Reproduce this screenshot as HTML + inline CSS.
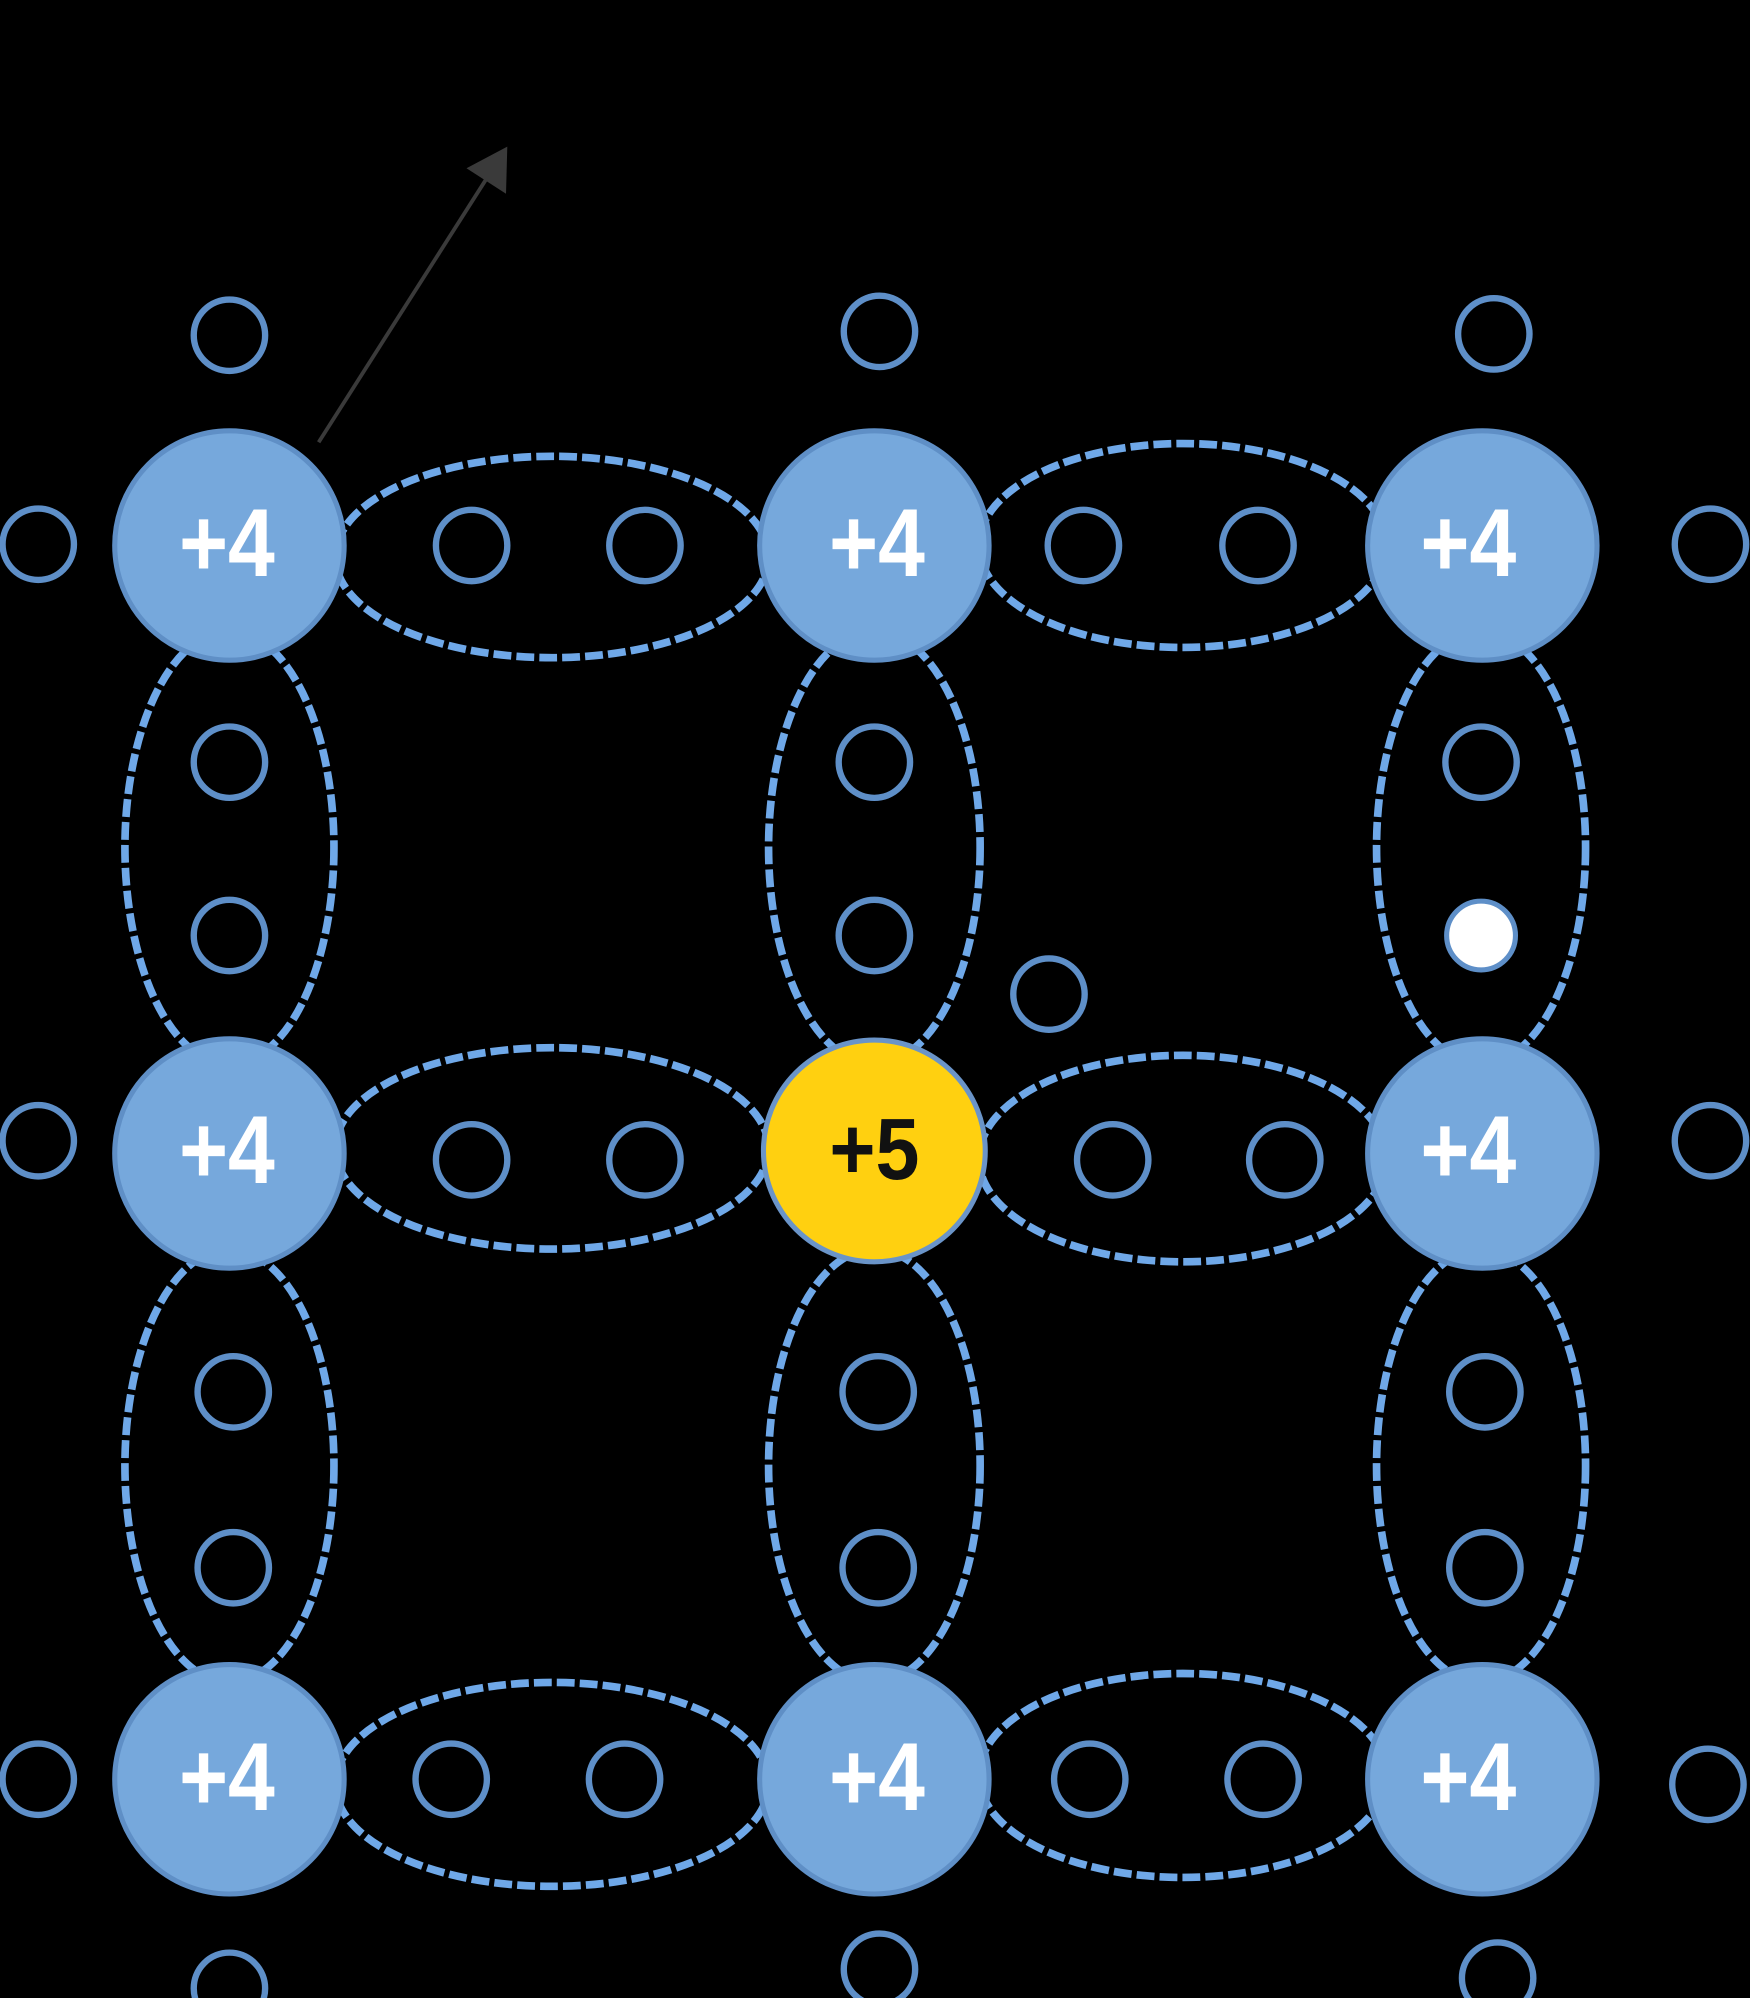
<!DOCTYPE html>
<html><head><meta charset="utf-8"><style>html,body{margin:0;padding:0;background:#000}svg{display:block}</style></head>
<body>
<svg width="1750" height="1998" viewBox="0 0 1373 1567.6" xmlns="http://www.w3.org/2000/svg">
<rect width="1373" height="1568" fill="#000"/>
<line x1="250" y1="347" x2="385" y2="135" stroke="#3a3a3a" stroke-width="3"/>
<polygon points="398,115 397,152 366,132" fill="#3a3a3a"/>
<g fill="none" stroke="#6fa8e8" stroke-width="6" stroke-dasharray="14 4">
<ellipse cx="433" cy="437" rx="170" ry="79"/>
<ellipse cx="928" cy="428" rx="160" ry="80"/>
<ellipse cx="433" cy="901" rx="170" ry="79"/>
<ellipse cx="928" cy="909" rx="160" ry="81"/>
<ellipse cx="433" cy="1400" rx="170" ry="80"/>
<ellipse cx="928" cy="1393" rx="160" ry="80"/>
<ellipse cx="180" cy="665" rx="82" ry="170"/>
<ellipse cx="686" cy="665" rx="83" ry="170"/>
<ellipse cx="1162" cy="665" rx="82" ry="170"/>
<ellipse cx="180" cy="1150" rx="82" ry="170"/>
<ellipse cx="686" cy="1150" rx="83" ry="170"/>
<ellipse cx="1162" cy="1150" rx="82" ry="170"/>
</g>
<g fill="none" stroke="#5e8fc8" stroke-width="5">
<circle cx="180" cy="263" r="28"/><circle cx="690" cy="260" r="28"/><circle cx="1172" cy="262" r="28"/>
<circle cx="30" cy="427" r="28"/><circle cx="370" cy="428" r="28"/><circle cx="506" cy="428" r="28"/><circle cx="850" cy="428" r="28"/><circle cx="987" cy="428" r="28"/><circle cx="1342" cy="427" r="28"/>
<circle cx="180" cy="598" r="28"/><circle cx="180" cy="734" r="28"/><circle cx="686" cy="598" r="28"/><circle cx="686" cy="734" r="28"/><circle cx="1162" cy="598" r="28"/>
<circle cx="823" cy="780" r="28"/>
<circle cx="30" cy="895" r="28"/><circle cx="370" cy="910" r="28"/><circle cx="506" cy="910" r="28"/><circle cx="873" cy="910" r="28"/><circle cx="1008" cy="910" r="28"/><circle cx="1342" cy="895" r="28"/>
<circle cx="183" cy="1092" r="28"/><circle cx="183" cy="1230" r="28"/><circle cx="689" cy="1092" r="28"/><circle cx="689" cy="1230" r="28"/><circle cx="1165" cy="1092" r="28"/><circle cx="1165" cy="1230" r="28"/>
<circle cx="30" cy="1396" r="28"/><circle cx="354" cy="1396" r="28"/><circle cx="490" cy="1396" r="28"/><circle cx="855" cy="1396" r="28"/><circle cx="991" cy="1396" r="28"/><circle cx="1340" cy="1400" r="28"/>
<circle cx="180" cy="1560" r="28"/><circle cx="690" cy="1545" r="28"/><circle cx="1175" cy="1552" r="28"/>
</g>
<circle cx="1162" cy="734" r="27" fill="#fff" stroke="#5e8fc8" stroke-width="4"/>
<g fill="#76a8dc" stroke="#5f8fc6" stroke-width="4">
<circle cx="180" cy="428" r="90"/><circle cx="686" cy="428" r="90"/><circle cx="1163" cy="428" r="90"/>
<circle cx="180" cy="905" r="90"/><circle cx="1163" cy="905" r="90"/>
<circle cx="180" cy="1396" r="90"/><circle cx="686" cy="1396" r="90"/><circle cx="1163" cy="1396" r="90"/>
</g>
<circle cx="686" cy="903" r="87" fill="#ffd010" stroke="#6a94c8" stroke-width="4"/>
<g font-family="Liberation Sans, sans-serif" font-weight="bold" font-size="66" fill="#fff" text-anchor="middle">
<text transform="translate(178,452) scale(1,1.15)">+4</text>
<text transform="translate(688,452) scale(1,1.15)">+4</text>
<text transform="translate(1152,452) scale(1,1.15)">+4</text>
<text transform="translate(178,928) scale(1,1.15)">+4</text>
<text transform="translate(1152,928) scale(1,1.15)">+4</text>
<text transform="translate(178,1420) scale(1,1.15)">+4</text>
<text transform="translate(688,1420) scale(1,1.15)">+4</text>
<text transform="translate(1152,1420) scale(1,1.15)">+4</text>
<text transform="translate(686,925) scale(1,1.1)" fill="#111" font-size="62">+5</text>
</g>
</svg>
</body></html>
